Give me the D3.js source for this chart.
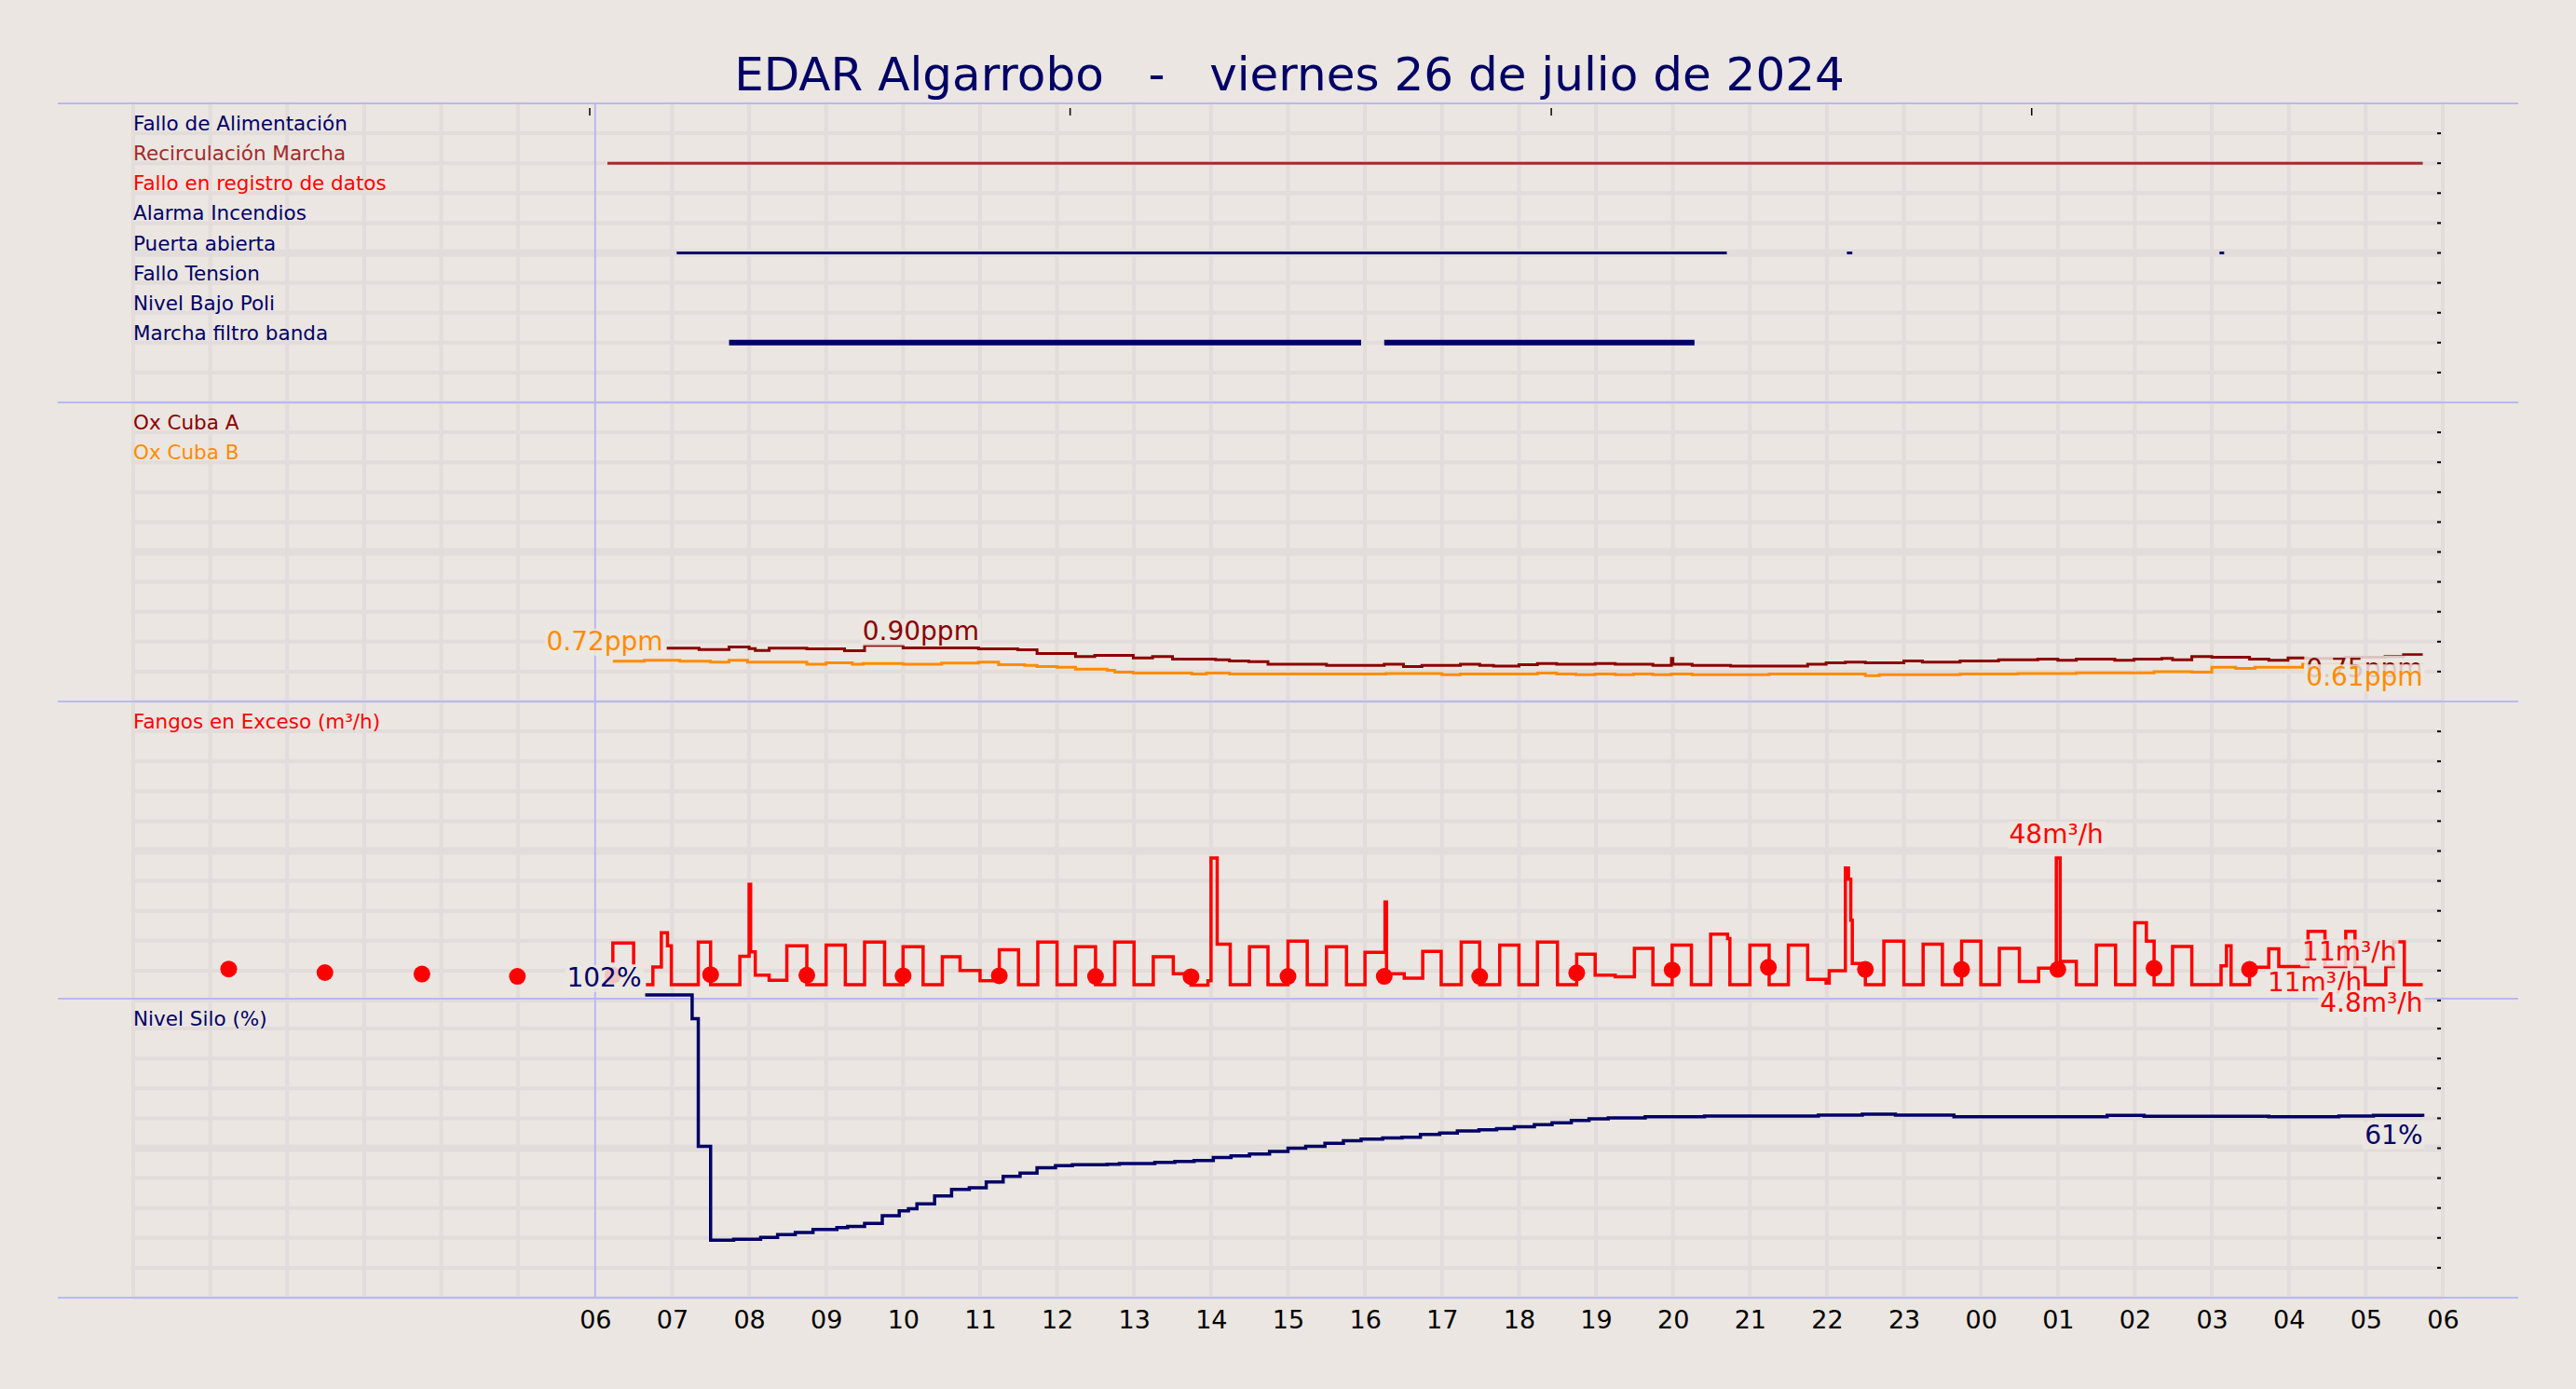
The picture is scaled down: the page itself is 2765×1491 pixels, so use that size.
<!DOCTYPE html>
<html><head><meta charset="utf-8">
<script src="https://cdn.jsdelivr.net/npm/d3@7"></script>
<style>html,body{margin:0;padding:0;background:#ebe6e1;}svg{display:block;font-family:"DejaVu Sans",sans-serif;}</style>
</head><body><svg id="c" width="2765" height="1491"></svg>
<script>
const title = "EDAR Algarrobo   -   viernes 26 de julio de 2024";
const hourTicks = [6,7,8,9,10,11,12,13,14,15,16,17,18,19,20,21,22,23,24,25,26,27,28,29,30];
const hourLabels = ["06","07","08","09","10","11","12","13","14","15","16","17","18","19","20","21","22","23","00","01","02","03","04","05","06"];
const topTicks = [5.93,12.17,18.42,24.66];

const signalNames = ["Fallo de Alimentación","Recirculación Marcha","Fallo en registro de datos","Alarma Incendios","Puerta abierta","Fallo Tension","Nivel Bajo Poli","Marcha filtro banda"];
const signalColors = ["#000066","#a52a2a","#ff0000","#000066","#000066","#000066","#000066","#000066"];
const signalWidths = [3,3,3,3,3,3,3,6];
// [row, start hour, end hour]
const signalIntervals = [[1,6.16,29.74],[4,7.06,20.70],[4,22.26,22.33],[4,27.10,27.16],[7,7.74,15.95],[7,16.25,20.28]];

const oxA = [[6.93,.855],[7.35,.835],[7.74,.875],[8.0,.85],[8.08,.82],[8.26,.855],[8.75,.845],[9.24,.815],[9.5,.90],[10.0,.86],[10.98,.845],[11.49,.83],[11.74,.77],[12.24,.72],[12.49,.74],[12.99,.70],[13.24,.72],[13.5,.68],[14.06,.67],[14.24,.65],[14.49,.64],[14.74,.60],[15.5,.58],[16.25,.60],[16.5,.56],[16.74,.58],[17.24,.60],[17.49,.58],[17.67,.57],[18.0,.59],[18.24,.61],[18.49,.60],[18.99,.61],[19.25,.60],[19.74,.58],[19.98,.69],[20.0,.60],[20.25,.58],[20.75,.57],[21.75,.60],[21.99,.62],[22.24,.63],[22.5,.62],[23.0,.65],[23.24,.63],[23.73,.65],[24.23,.67],[24.74,.68],[25.0,.66],[25.24,.68],[25.74,.66],[25.99,.68],[26.35,.69],[26.49,.67],[26.74,.72],[27.0,.71],[27.49,.68],[27.74,.66],[27.99,.70],[28.23,.69],[28.73,.71],[29.25,.72],[29.49,.75],[29.74,.75]];
const oxB = [[6.23,.645],[6.64,.66],[7.1,.645],[7.5,.63],[7.74,.66],[7.98,.63],[8.75,.60],[9.0,.62],[9.34,.60],[9.48,.61],[10.0,.60],[10.5,.615],[10.98,.63],[11.24,.59],[11.58,.58],[11.74,.56],[12.0,.55],[12.24,.52],[12.65,.50],[12.75,.47],[12.99,.455],[13.75,.44],[13.94,.455],[14.24,.44],[16.27,.45],[17.0,.43],[17.24,.44],[18.24,.455],[18.49,.44],[18.74,.43],[18.99,.44],[19.25,.43],[19.49,.44],[19.74,.43],[19.98,.44],[20.25,.43],[21.25,.44],[22.5,.415],[22.68,.43],[23.49,.43],[23.73,.44],[24.48,.45],[25.24,.46],[26.25,.48],[26.74,.47],[27.0,.55],[27.31,.53],[27.56,.55],[28.18,.60],[29.74,.61]];

// Fangos en exceso step data [hour, m3/h]; null = gap
const fangos = [[6.23,12.3],[6.23,19],[6.5,11.7],[6.58,null],[6.66,4.8],[6.75,10.8],[6.86,22.5],[6.94,18],[6.99,4.8],[7.34,19.3],[7.5,4.8],[7.88,14.5],[8.0,39],[8.02,16],[8.08,8],[8.26,6.3],[8.49,18],[8.75,4.8],[9.0,18.3],[9.25,4.8],[9.5,19.3],[9.76,4.8],[10.0,17.7],[10.26,4.8],[10.51,14.3],[10.74,9.6],[11.0,6.1],[11.25,16.7],[11.5,4.8],[11.75,19.3],[12.0,4.8],[12.24,17.7],[12.5,4.8],[12.75,19.3],[13.0,4.8],[13.25,14.3],[13.51,8.5],[13.74,4.6],[13.96,6.1],[14.0,48],[14.08,18.6],[14.25,4.8],[14.5,17.7],[14.74,4.8],[15.0,19.6],[15.25,4.8],[15.5,17.7],[15.76,4.8],[16.0,15.8],[16.26,33],[16.28,8.5],[16.51,7.0],[16.75,16.1],[16.99,4.8],[17.25,19.3],[17.49,4.8],[17.75,18.3],[18.0,4.8],[18.24,19.3],[18.5,4.8],[18.75,15.2],[18.99,8.0],[19.25,7.5],[19.5,17.2],[19.74,4.8],[19.99,18.3],[20.24,4.8],[20.49,22],[20.71,20.5],[20.74,4.8],[21.0,18.3],[21.25,4.8],[21.5,18.3],[21.75,6.6],[21.99,5.3],[22.03,9.5],[22.24,44.6],[22.28,40.8],[22.31,26.8],[22.33,12],[22.5,4.8],[22.74,19.6],[23.0,4.8],[23.25,18.6],[23.5,4.8],[23.75,19.6],[24.0,4.8],[24.24,17.2],[24.5,5.9],[24.75,10.4],[24.98,48],[25.03,12.7],[25.24,4.8],[25.5,18.3],[25.75,4.8],[26.0,25.9],[26.15,19.6],[26.25,4.8],[26.49,17.8],[26.74,4.8],[27.12,11.2],[27.19,18],[27.25,4.8],[27.49,10.7],[27.74,17],[27.87,11],[28.25,23],[28.47,11],[28.74,23],[28.86,11],[28.99,4.8],[29.26,11],[29.36,19.4],[29.5,4.8],[29.74,4.8]];
const fangosDots = [[1.24,10.1],[2.49,8.9],[3.75,8.4],[4.99,7.6],[6.23,8],[7.5,8.2],[8.75,8.0],[10.0,7.8],[11.25,7.8],[12.5,7.6],[13.74,7.5],[15.0,7.6],[16.25,7.6],[17.49,7.6],[18.75,8.8],[19.99,9.8],[21.24,10.7],[22.5,10.0],[23.75,10.0],[25.0,10.0],[26.25,10.4],[27.49,10.0]];

const silo = [[6.65,102],[7.26,94],[7.34,51],[7.5,19.4],[7.8,19.7],[8.15,20.3],[8.37,21.3],[8.6,22],[8.83,23],[9.14,23.6],[9.28,24],[9.5,25],[9.73,27.6],[9.95,29.3],[10.07,30],[10.18,31.6],[10.41,34.3],[10.63,36.5],[10.86,37],[11.08,39],[11.3,40.9],[11.52,42],[11.74,43.8],[11.98,44.5],[12.2,44.8],[12.65,45],[12.81,45.2],[13.27,45.6],[13.53,45.9],[13.78,46.2],[14.03,47.2],[14.26,47.8],[14.5,48.4],[14.76,49.3],[15.0,50.4],[15.23,51],[15.48,52],[15.72,52.9],[15.95,53.4],[16.23,53.8],[16.48,54.1],[16.72,55],[16.97,55.5],[17.2,56.2],[17.48,56.6],[17.71,57],[17.94,57.6],[18.2,58.3],[18.43,58.9],[18.68,59.7],[18.91,60.3],[19.16,60.6],[19.64,61],[20.41,61.2],[21.89,61.5],[22.46,61.8],[22.89,61.5],[23.65,61],[25.64,61.4],[26.12,61.1],[27.74,61],[28.65,61.2],[29.1,61.4],[29.74,61]];

const svg = d3.select("#c");
const W=2765,H=1491;
const bg="#ebe6e1", grid="#e2dcda", sep="#b8b8f4";
const x = d3.scaleLinear().domain([0,30]).range([143,2622]);
const panelTop=[111,432,753,1072], panelH=321;
const yOx = d3.scaleLinear().domain([0,4.8]).range([753,432]);
const yF = d3.scaleLinear().domain([0,101.4]).range([1072,753]);
const yS = d3.scaleLinear().domain([0,100.75]).range([1393,1072]);

svg.append("rect").attr("width",W).attr("height",H).attr("fill",bg);
svg.append("text").attr("x",1384).attr("y",97).attr("text-anchor","middle").attr("font-size",50).attr("fill","#000066").attr("xml:space","preserve").text(title);

const g=svg.append("g");
for(let p=0;p<4;p++){
  for(let r=1;r<=10;r++){
    const yy=panelTop[p]+r*32.1;
    g.append("line").attr("x1",143).attr("x2",2622).attr("y1",yy).attr("y2",yy).attr("stroke",grid).attr("stroke-width",r==5?8:4);
    g.append("line").attr("x1",2616).attr("x2",2623).attr("y1",yy).attr("y2",yy).attr("stroke","#000").attr("stroke-width",2);
  }
}
d3.range(0,31).forEach(h=>{
  g.append("line").attr("x1",x(h)).attr("x2",x(h)).attr("y1",111).attr("y2",1393).attr("stroke",h==6?sep:grid).attr("stroke-width",h==6?2:4);
});
[111,432,753,1072,1393].forEach(yy=>g.append("line").attr("x1",62).attr("x2",2703).attr("y1",yy).attr("y2",yy).attr("stroke",sep).attr("stroke-width",2));
topTicks.forEach(h=>g.append("line").attr("x1",x(h)).attr("x2",x(h)).attr("y1",116).attr("y2",124).attr("stroke","#000").attr("stroke-width",1.5));

const ax=svg.append("g").attr("transform","translate(0,1393)").call(d3.axisBottom(x).tickValues(hourTicks).tickFormat((d,i)=>hourLabels[i]).tickSize(0).tickPadding(14));
ax.select(".domain").remove();
ax.selectAll("text").attr("font-size",27).attr("fill","#000").attr("font-family","DejaVu Sans");

const LF=21.5;
signalNames.forEach((n,i)=>{
  svg.append("text").attr("x",143).attr("y",panelTop[0]+32.1*(i+1)-3).attr("font-size",LF).attr("fill",signalColors[i]).text(n);
});
const rowY=i=>panelTop[0]+32.1*(i+1);
svg.selectAll(".sig").data(signalIntervals).join("line")
  .attr("x1",d=>x(d[1])).attr("x2",d=>x(d[2])).attr("y1",d=>rowY(d[0])).attr("y2",d=>rowY(d[0]))
  .attr("stroke",d=>signalColors[d[0]]).attr("stroke-width",d=>signalWidths[d[0]]);

function label(txt,xx,yy,color,anchor){
  const t=svg.append("text").attr("x",xx).attr("y",yy).attr("font-size",28).attr("fill",color).attr("text-anchor",anchor).text(txt);
  const b=t.node().getBBox();
  svg.insert("rect",()=>t.node()).attr("x",b.x-2).attr("y",b.y+3).attr("width",b.width+4).attr("height",b.height-4).attr("fill",bg).attr("opacity",0.85);
}

svg.append("text").attr("x",143).attr("y",panelTop[1]+29).attr("font-size",LF).attr("fill","#8b0000").text("Ox Cuba A");
svg.append("text").attr("x",143).attr("y",panelTop[1]+61).attr("font-size",LF).attr("fill","#ff8c00").text("Ox Cuba B");
const stepLine=(ys)=>d3.line().defined(d=>d[1]!==null).x(d=>x(d[0])).y(d=>ys(d[1])).curve(d3.curveStepAfter);
svg.append("path").attr("d",stepLine(yOx)(oxB)).attr("fill","none").attr("stroke","#ff8c00").attr("stroke-width",3);
svg.append("path").attr("d",stepLine(yOx)(oxA)).attr("fill","none").attr("stroke","#8b0000").attr("stroke-width",3);
label("0.72ppm",x(6.93)-4,yOx(.645)-12,"#ff8c00","end");
label("0.90ppm",x(10.23),yOx(.90)-6,"#8b0000","middle");
label("0.75ppm",x(29.74),yOx(.75)+24,"#8b0000","end");
label("0.61ppm",x(29.74),yOx(.61)+24,"#ff8c00","end");

svg.append("text").attr("x",143).attr("y",panelTop[2]+29).attr("font-size",LF).attr("fill","#ff0000").text("Fangos en Exceso (m³/h)");
svg.append("path").attr("d",stepLine(yF)(fangos)).attr("fill","none").attr("stroke","#ff0000").attr("stroke-width",3.5);
svg.selectAll(".dot").data(fangosDots).join("circle").attr("cx",d=>x(d[0])).attr("cy",d=>yF(d[1])).attr("r",9).attr("fill","#ff0000");
label("48m³/h",x(24.98),yF(48)-16,"#ff0000","middle");
label("11m³/h",x(29.4),yF(11)-6,"#ff0000","end");
label("11m³/h",x(28.95),yF(11)+27,"#ff0000","end");
label("4.8m³/h",x(29.74),yF(4.8)+29,"#ff0000","end");

svg.append("text").attr("x",143).attr("y",panelTop[3]+29).attr("font-size",LF).attr("fill","#000066").text("Nivel Silo (%)");
svg.append("path").attr("d",stepLine(yS)(silo)).attr("fill","none").attr("stroke","#000066").attr("stroke-width",3.5);
label("102%",x(6.65)-4,yS(102)-9,"#000066","end");
label("61%",x(29.74),yS(61)+29,"#000066","end");
</script></body></html>
